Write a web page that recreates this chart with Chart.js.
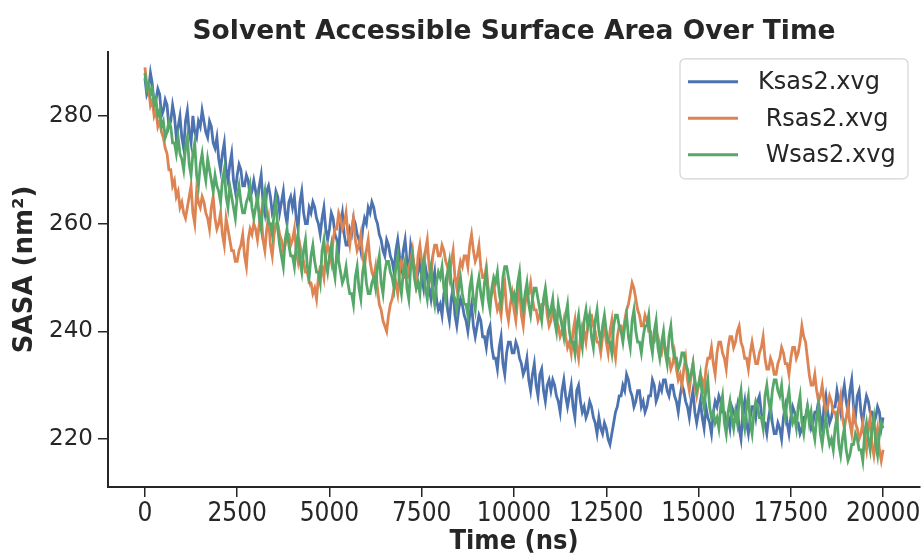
<!DOCTYPE html>
<html>
<head>
<meta charset="utf-8">
<script src="https://cdn.jsdelivr.net/npm/chart.js@4.4.1/dist/chart.umd.min.js"></script>
<style>
  html, body { margin: 0; padding: 0; background: #fff; }
  #wrap { width: 924px; height: 558px; }
</style>
</head>
<body>
<div id="wrap"><canvas id="sasaChart" width="924" height="558"></canvas></div>
<script>
const seriesLabels = ['Ksas2.xvg', ' Rsas2.xvg', ' Wsas2.xvg'];
const seriesColors = ['#4c72b0', '#dd8452', '#55a868'];
const timeStep = 50; // ns between samples
const xTicks = [0, 2500, 5000, 7500, 10000, 12500, 15000, 17500, 20000];
const yTicks = [220, 240, 260, 280];

// one row = 1000 ns
const ksas = [
	287, 284, 285, 288, 286, 282, 283, 285, 284, 280, 281, 283, 282, 278, 279, 282, 280, 276, 278, 280,
	276, 274, 279, 281, 277, 275, 280, 277, 276, 279, 278, 281, 279, 277, 276, 279, 278, 275, 274, 276,
	272, 270, 273, 275, 270, 268, 271, 273, 268, 266, 269, 271, 270, 267, 267, 269, 268, 265, 266, 268,
	266, 264, 267, 269, 264, 262, 266, 267, 265, 262, 263, 266, 265, 262, 264, 266, 262, 260, 264, 265,
	263, 265, 261, 259, 264, 266, 262, 260, 260, 263, 262, 264, 263, 261, 260, 258, 261, 263, 259, 257,
	259, 262, 261, 258, 257, 255, 260, 262, 258, 256, 256, 259, 258, 261, 260, 258, 257, 255, 259, 261,
	260, 263, 262, 264, 263, 261, 260, 258, 257, 255, 254, 257, 256, 254, 253, 251, 255, 257, 254, 252,
	255, 257, 253, 251, 256, 254, 252, 249, 251, 253, 250, 248, 252, 250, 248, 246, 249, 251, 246, 244,
	245, 243, 247, 249, 244, 242, 246, 248, 243, 241, 244, 246, 245, 243, 242, 240, 243, 245, 241, 239,
	241, 243, 242, 239, 239, 237, 240, 241, 237, 235, 235, 233, 237, 239, 234, 232, 236, 238, 238, 236,
	236, 238, 237, 235, 234, 232, 233, 235, 231, 229, 232, 234, 230, 228, 232, 233, 229, 227, 230, 231,
	229, 231, 230, 228, 227, 225, 229, 231, 228, 226, 228, 230, 226, 224, 229, 230, 227, 225, 226, 224,
	225, 227, 226, 224, 223, 221, 224, 222, 221, 223, 222, 220, 219, 221, 223, 225, 226, 228, 228, 230,
	229, 232, 231, 229, 228, 226, 227, 229, 229, 226, 227, 225, 226, 228, 228, 231, 230, 227, 228, 230,
	229, 231, 231, 229, 228, 230, 230, 228, 227, 225, 228, 230, 229, 227, 226, 224, 227, 229, 225, 223,
	225, 227, 224, 222, 226, 224, 223, 221, 225, 227, 226, 228, 227, 225, 225, 223, 224, 222, 226, 225,
	224, 226, 222, 220, 225, 227, 223, 221, 224, 226, 226, 224, 227, 228, 225, 223, 223, 221, 224, 226,
	223, 221, 221, 223, 222, 220, 224, 226, 223, 221, 224, 226, 225, 223, 223, 221, 222, 224, 224, 226,
	224, 222, 223, 225, 225, 227, 224, 222, 226, 228, 225, 223, 224, 226, 226, 229, 227, 225, 228, 230,
	227, 225, 229, 231, 226, 224, 228, 229, 225, 223, 226, 228, 227, 225, 225, 223, 224, 226, 225, 222,
	224
];
const rsas = [
	289, 286, 285, 282, 283, 280, 281, 278, 279, 277, 276, 274, 273, 270, 270, 267, 268, 265, 266, 263,
	264, 262, 261, 263, 265, 267, 262, 260, 266, 264, 263, 265, 264, 262, 261, 259, 263, 265, 261, 259,
	260, 262, 258, 256, 261, 259, 257, 255, 255, 253, 253, 255, 256, 258, 254, 252, 257, 259, 258, 260,
	259, 257, 260, 262, 257, 255, 259, 261, 256, 254, 258, 260, 260, 258, 257, 255, 256, 258, 258, 256,
	257, 259, 255, 253, 256, 254, 253, 251, 251, 249, 249, 247, 248, 246, 250, 252, 252, 250, 254, 256,
	255, 253, 257, 259, 259, 262, 261, 259, 260, 262, 258, 256, 259, 261, 257, 255, 256, 258, 254, 252,
	255, 257, 253, 251, 250, 252, 248, 245, 244, 242, 241, 240, 243, 245, 246, 248, 249, 247, 251, 253,
	252, 250, 250, 252, 253, 255, 251, 249, 254, 256, 253, 251, 255, 257, 252, 250, 254, 256, 256, 254,
	254, 256, 255, 253, 252, 250, 253, 255, 250, 248, 251, 253, 252, 254, 254, 252, 256, 258, 255, 253,
	254, 256, 252, 250, 250, 252, 248, 246, 247, 249, 246, 244, 245, 243, 247, 249, 244, 242, 245, 247,
	244, 242, 246, 248, 243, 241, 245, 247, 247, 249, 246, 244, 244, 242, 243, 245, 245, 247, 243, 241,
	242, 244, 244, 242, 241, 239, 240, 242, 239, 237, 238, 236, 240, 242, 237, 235, 239, 241, 240, 238,
	241, 243, 243, 241, 240, 238, 238, 236, 239, 241, 238, 236, 240, 242, 237, 235, 239, 241, 241, 239,
	242, 244, 245, 247, 249, 248, 246, 244, 243, 241, 241, 243, 242, 240, 240, 238, 238, 240, 239, 237,
	236, 238, 237, 235, 235, 233, 234, 236, 233, 231, 232, 230, 233, 235, 231, 229, 232, 234, 230, 228,
	230, 232, 231, 229, 233, 235, 235, 237, 234, 232, 236, 238, 238, 236, 235, 233, 237, 239, 239, 237,
	238, 240, 241, 238, 237, 235, 235, 233, 236, 238, 236, 234, 234, 236, 237, 239, 235, 233, 233, 235,
	234, 232, 232, 234, 235, 237, 236, 234, 234, 232, 235, 237, 237, 235, 236, 238, 241, 239, 238, 235,
	232, 230, 230, 232, 229, 227, 228, 230, 227, 225, 226, 228, 227, 225, 225, 223, 226, 228, 224, 222,
	224, 226, 223, 221, 225, 223, 222, 220, 221, 223, 220, 218, 222, 224, 219, 217, 220, 222, 218, 216,
	218
];
const wsas = [
	288, 285, 286, 284, 285, 282, 283, 280, 281, 278, 279, 276, 277, 279, 278, 275, 275, 273, 276, 273,
	272, 270, 274, 276, 271, 269, 273, 275, 269, 267, 271, 273, 270, 268, 272, 270, 268, 266, 269, 267,
	266, 264, 268, 270, 265, 263, 267, 265, 263, 261, 265, 267, 264, 262, 262, 264, 265, 267, 263, 261,
	263, 265, 261, 259, 264, 266, 262, 260, 260, 258, 262, 264, 259, 256, 254, 252, 257, 259, 256, 254,
	254, 252, 256, 258, 253, 251, 255, 257, 252, 250, 254, 256, 253, 251, 251, 249, 255, 257, 253, 251,
	254, 256, 252, 250, 255, 253, 251, 249, 250, 252, 249, 247, 247, 245, 250, 252, 248, 246, 251, 253,
	249, 247, 247, 249, 250, 248, 252, 254, 249, 247, 251, 253, 253, 251, 250, 248, 252, 254, 249, 247,
	251, 253, 248, 246, 252, 254, 250, 248, 249, 247, 251, 253, 248, 246, 250, 252, 247, 245, 249, 251,
	250, 252, 248, 246, 251, 253, 249, 247, 246, 244, 248, 250, 247, 245, 245, 243, 248, 250, 246, 244,
	248, 250, 247, 245, 249, 251, 246, 244, 248, 250, 249, 251, 247, 245, 250, 252, 252, 250, 248, 246,
	247, 245, 249, 251, 246, 244, 247, 249, 245, 243, 246, 248, 248, 246, 244, 242, 246, 248, 245, 243,
	244, 246, 242, 240, 245, 243, 241, 239, 243, 245, 240, 238, 238, 236, 241, 243, 239, 237, 242, 244,
	241, 243, 239, 237, 242, 244, 240, 238, 241, 243, 240, 238, 238, 236, 241, 243, 243, 241, 240, 238,
	241, 243, 239, 237, 242, 244, 240, 238, 238, 236, 239, 241, 241, 243, 238, 236, 240, 242, 237, 235,
	238, 240, 236, 234, 239, 241, 237, 235, 235, 233, 234, 236, 236, 234, 233, 231, 232, 234, 231, 229,
	230, 232, 228, 226, 229, 231, 226, 224, 225, 223, 224, 222, 226, 228, 223, 221, 225, 227, 224, 222,
	225, 223, 227, 229, 224, 222, 226, 228, 223, 221, 225, 227, 226, 224, 224, 222, 228, 230, 227, 225,
	229, 231, 231, 229, 228, 230, 226, 224, 227, 229, 225, 223, 224, 222, 226, 228, 223, 221, 224, 226,
	223, 225, 222, 220, 224, 226, 221, 219, 222, 224, 221, 219, 220, 218, 222, 224, 219, 217, 220, 222,
	218, 216, 217, 219, 219, 221, 220, 218, 218, 216, 221, 223, 220, 218, 222, 224, 219, 217, 221, 223,
	222
];

const ink = '#262626';
const condensed = "'DejaVu Sans Condensed', 'DejaVu Sans', sans-serif";

Chart.defaults.font.family = "'DejaVu Sans', sans-serif";
Chart.defaults.color = ink;

function toPoints(values) {
	return values.map((v, i) => ({ x: i * timeStep, y: v }));
}

// framed legend in the upper right corner, like matplotlib's
const boxLegend = {
	id: 'boxLegend',
	afterDraw(chart) {
		const ctx = chart.ctx;
		const area = chart.chartArea;
		const w = 228, h = 120;
		const x0 = area.right - 12 - w, y0 = area.top + 7;
		ctx.save();
		ctx.beginPath();
		if (ctx.roundRect) ctx.roundRect(x0, y0, w, h, 5); else ctx.rect(x0, y0, w, h);
		ctx.fillStyle = 'rgba(255,255,255,0.85)';
		ctx.fill();
		ctx.strokeStyle = '#d4d4d4';
		ctx.lineWidth = 1.2;
		ctx.stroke();
		ctx.font = '24px "DejaVu Sans", sans-serif';
		ctx.textBaseline = 'middle';
		ctx.fillStyle = ink;
		seriesLabels.forEach((label, i) => {
			const y = y0 + 23 + i * 36.5;
			ctx.beginPath();
			ctx.moveTo(x0 + 8, y);
			ctx.lineTo(x0 + 58, y);
			ctx.strokeStyle = seriesColors[i];
			ctx.lineWidth = 3;
			ctx.stroke();
			ctx.fillText(label, x0 + 78, y + 1);
		});
		ctx.restore();
	}
};

let ctx = document.getElementById('sasaChart').getContext('2d');
let sasaChart = new Chart(ctx, {
	type: 'line',
	data: {
		datasets: [
			{ label: seriesLabels[0], data: toPoints(ksas), borderColor: seriesColors[0], order: 2 },
			{ label: seriesLabels[1], data: toPoints(rsas), borderColor: seriesColors[1], order: 1 },
			{ label: seriesLabels[2], data: toPoints(wsas), borderColor: seriesColors[2], order: 0 }
		]
	},
	options: {
		responsive: false,
		animation: false,
		devicePixelRatio: 1,
		layout: { padding: { top: 0, right: 4, bottom: 0, left: 0 } },
		elements: {
			line: { borderWidth: 2.8, tension: 0, fill: false },
			point: { radius: 0, hitRadius: 0 }
		},
		plugins: {
			legend: { display: false },
			tooltip: { enabled: false },
			title: {
				display: true,
				fullSize: false,
				text: 'Solvent Accessible Surface Area Over Time',
				font: { size: 26.5, weight: 'bold' },
				color: ink,
				padding: { top: 16, bottom: 4 }
			}
		},
		scales: {
			x: {
				type: 'linear',
				min: -1000,
				max: 21000,
				afterBuildTicks: s => { s.ticks = xTicks.map(v => ({ value: v })); },
				afterFit: s => { s.height = 71; },
				grid: { drawOnChartArea: false, tickLength: 10, color: ink, lineWidth: 1.5 },
				border: { color: ink, width: 2 },
				ticks: {
					font: { family: condensed, size: 26 },
					color: ink,
					padding: 2,
					maxRotation: 0,
					autoSkip: false,
					callback: v => String(v)
				},
				title: {
					display: true,
					text: 'Time (ns)',
					font: { family: condensed, size: 27, weight: 'bold' },
					color: ink,
					padding: { top: 0, bottom: 0 }
				}
			},
			y: {
				min: 211.1,
				max: 291.9,
				afterBuildTicks: s => { s.ticks = yTicks.map(v => ({ value: v })); },
				afterFit: s => { s.width = 108; },
				grid: { drawOnChartArea: false, tickLength: 10, color: ink, lineWidth: 1.5 },
				border: { color: ink, width: 2 },
				ticks: {
					font: { size: 23 },
					color: ink,
					padding: 5,
					callback: v => String(v)
				},
				title: {
					display: true,
					text: 'SASA (nm²)',
					font: { size: 26, weight: 'bold' },
					color: ink,
					padding: { top: 10, bottom: 0 }
				}
			}
		}
	},
	plugins: [boxLegend]
});
</script>
</body>
</html>
